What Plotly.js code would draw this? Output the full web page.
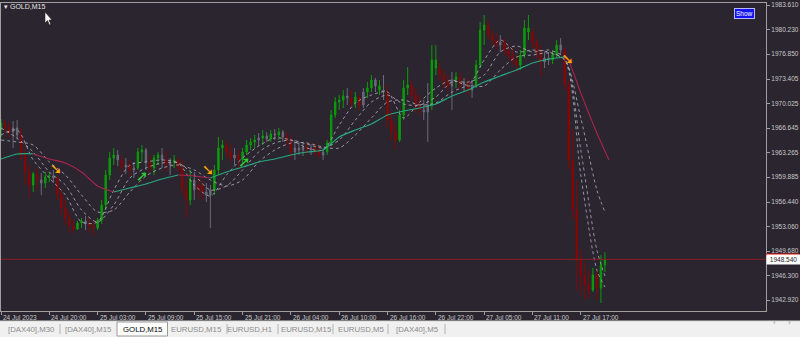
<!DOCTYPE html>
<html><head><meta charset="utf-8">
<script src="https://cdn.plot.ly/plotly-3.0.1.min.js"></script>
<style>html,body{margin:0;padding:0;background:#2a252f;}#c{width:800px;height:337px;}</style>
</head><body><div id="c"></div>
<script>
// ---- OHLC data (GOLD, bars) ----
const openP = [
1966.37,1967.20,1966.79,1966.10,1966.65,1965.68,1962.93,1960.58,1958.79,1960.31,
1959.48,1959.06,1959.89,1960.03,1959.75,1957.41,1955.62,1954.24,1953.13,1952.72,
1953.55,1953.82,1953.41,1953.13,1952.86,1953.96,1956.03,1960.17,1962.51,1962.93,
1962.24,1961.27,1961.55,1960.86,1961.13,1963.34,1963.61,1961.96,1961.13,1962.51,
1962.93,1962.24,1961.55,1961.96,1962.24,1961.13,1958.37,1956.72,1959.48,1958.10,
1958.79,1957.82,1957.41,1958.10,1960.86,1963.89,1964.30,1963.34,1962.51,1962.93,
1962.24,1963.34,1964.30,1964.72,1964.99,1965.27,1965.55,1965.13,1965.82,1965.68,
1966.10,1965.41,1964.99,1963.34,1963.89,1963.61,1964.03,1963.61,1963.89,1963.48,
1962.93,1963.34,1964.58,1968.44,1970.23,1970.51,1971.06,1970.79,1970.10,1970.92,
1969.82,1971.61,1972.16,1973.27,1972.44,1971.89,1971.61,1967.75,1966.10,1964.99,
1968.44,1972.16,1972.58,1971.20,1969.82,1969.13,1968.86,1969.82,1976.03,1974.92,
1973.96,1972.99,1972.44,1973.27,1973.68,1972.58,1972.99,1971.89,1972.58,1975.34,
1980.16,1980.85,1979.47,1978.78,1978.09,1978.51,1977.40,1976.72,1976.03,1975.34,
1976.72,1980.44,1979.89,1978.51,1977.13,1975.75,1976.30,1976.03,1976.72,1978.09,
1977.40,1972.58,1962.24,1955.34,1948.45,1946.38,1945.00,1944.31,1946.38,1944.58,1947.76];
const highP = [
1967.89,1967.75,1967.48,1967.61,1967.75,1966.65,1963.61,1961.55,1960.58,1961.13,
1960.44,1960.58,1960.58,1960.86,1960.03,1958.10,1956.72,1955.07,1953.96,1953.82,
1954.24,1954.51,1954.24,1953.96,1954.24,1956.72,1960.86,1963.34,1963.89,1963.61,
1962.93,1962.51,1962.24,1961.96,1963.89,1964.30,1963.89,1962.93,1962.93,1963.34,
1963.89,1963.61,1962.51,1962.93,1962.65,1962.24,1959.48,1960.86,1960.58,1959.75,
1959.48,1959.06,1958.79,1961.55,1965.41,1964.99,1964.99,1964.30,1963.89,1963.61,
1963.89,1964.99,1965.27,1965.68,1965.96,1966.37,1966.10,1966.37,1966.51,1966.65,
1966.37,1966.10,1965.68,1964.99,1964.72,1964.58,1964.72,1964.44,1964.58,1964.17,
1963.89,1964.99,1969.13,1970.92,1971.20,1971.89,1972.16,1971.89,1971.61,1971.20,
1972.16,1972.99,1973.96,1973.54,1973.27,1973.96,1972.58,1968.86,1967.06,1969.13,
1973.27,1975.06,1973.27,1972.16,1971.20,1970.51,1972.85,1978.09,1978.09,1975.75,
1974.65,1973.96,1974.37,1974.37,1974.37,1973.54,1973.54,1973.27,1976.03,1981.27,
1982.23,1981.54,1980.16,1979.75,1979.47,1979.06,1978.09,1977.68,1976.72,1977.40,
1981.54,1982.23,1980.44,1979.06,1978.09,1977.13,1977.13,1977.40,1978.78,1979.06,
1977.68,1973.27,1966.37,1959.48,1949.82,1948.17,1947.07,1947.34,1947.07,1949.14,1949.55];
const lowP = [
1965.41,1965.96,1965.27,1963.89,1964.99,1962.24,1958.79,1957.00,1957.82,1958.10,
1957.41,1958.37,1959.20,1959.06,1956.72,1954.65,1953.27,1952.31,1952.03,1952.58,
1952.86,1952.58,1952.31,1951.76,1952.58,1953.41,1955.34,1959.48,1961.55,1961.41,
1960.58,1960.31,1960.03,1959.75,1960.86,1961.96,1960.86,1960.58,1960.17,1961.55,
1961.13,1960.58,1960.17,1961.13,1960.58,1957.41,1954.24,1956.03,1956.72,1957.00,
1956.72,1956.44,1952.86,1957.41,1960.17,1962.24,1962.51,1961.96,1961.55,1961.13,
1961.82,1962.93,1963.61,1963.89,1964.17,1964.30,1964.72,1964.72,1964.99,1964.99,
1964.72,1964.30,1962.51,1962.24,1962.93,1962.79,1963.06,1962.93,1962.79,1962.51,
1962.24,1962.93,1964.17,1968.03,1969.13,1969.41,1969.82,1969.41,1969.41,1969.13,
1969.41,1970.79,1971.61,1971.61,1971.20,1970.51,1966.65,1964.99,1963.61,1964.72,
1967.75,1971.20,1970.51,1968.86,1968.44,1967.75,1964.72,1969.13,1973.96,1973.27,
1972.16,1971.61,1969.13,1972.16,1971.89,1971.61,1971.20,1970.79,1972.16,1974.92,
1978.09,1978.78,1978.09,1977.40,1977.13,1976.72,1976.03,1975.34,1974.23,1974.65,
1976.30,1978.78,1977.68,1976.30,1973.68,1974.92,1975.34,1975.47,1976.30,1976.72,
1971.89,1960.86,1953.96,1944.31,1943.62,1942.93,1943.21,1944.03,1942.93,1942.52,1946.79];
const closeP = [
1967.34,1966.79,1966.10,1966.65,1965.68,1962.93,1960.58,1958.79,1960.31,1959.48,
1959.06,1959.89,1960.03,1959.75,1957.41,1955.62,1954.24,1953.13,1952.72,1953.55,
1953.82,1953.41,1953.13,1952.86,1953.96,1956.03,1960.17,1962.51,1962.93,1962.24,
1961.27,1961.55,1960.86,1961.13,1963.34,1963.61,1961.96,1961.13,1962.51,1962.93,
1962.24,1961.55,1961.96,1962.24,1961.13,1958.37,1956.72,1959.48,1958.10,1958.79,
1957.82,1957.41,1958.10,1960.86,1963.89,1964.30,1963.34,1962.51,1962.93,1962.24,
1963.34,1964.30,1964.72,1964.99,1965.27,1965.55,1965.13,1965.82,1965.68,1966.10,
1965.41,1964.99,1963.34,1963.89,1963.61,1964.03,1963.61,1963.89,1963.48,1962.93,
1963.34,1964.58,1968.44,1970.23,1970.51,1971.06,1970.79,1970.10,1970.92,1969.82,
1971.61,1972.16,1973.27,1972.44,1971.89,1971.61,1967.75,1966.10,1964.99,1968.44,
1972.16,1972.58,1971.20,1969.82,1969.13,1968.86,1969.82,1976.03,1974.92,1973.96,
1972.99,1972.44,1973.27,1973.68,1972.58,1972.99,1971.89,1972.58,1975.34,1980.16,
1980.85,1979.47,1978.78,1978.09,1978.51,1977.40,1976.72,1976.03,1975.34,1976.72,
1980.44,1979.89,1978.51,1977.13,1975.75,1976.30,1976.03,1976.72,1978.09,1977.40,
1972.58,1962.24,1955.34,1948.45,1946.38,1945.00,1944.31,1946.38,1944.58,1947.76,1948.54];
// bar colour state from the indicator: u = bull (green), d = bear (red), n = neutral (grey)
const barState = [
'u','d','d','n','n','d','d','d','u','d',
'n','u','u','n','d','d','d','d','d','u',
'u','n','d','d','u','u','u','u','u','n',
'd','n','d','n','u','u','n','d','u','u',
'n','d','n','u','d','d','d','u','n','d',
'd','n','n','u','u','u','d','d','n','d',
'u','u','u','u','n','u','n','u','n','u',
'n','d','d','n','n','n','d','n','d','d',
'n','u','u','u','u','u','n','d','u','d',
'n','u','u','n','u','n','d','d','d','u',
'u','u','d','d','d','n','n','u','u','d',
'd','d','n','u','d','n','d','n','u','u',
'u','d','d','d','n','d','d','d','d','u',
'u','u','d','d','d','n','n','u','u','n',
'd','d','d','d','d','d','d','u','d','u','u'];

// ---- trend moving average (solid, coloured by slope) ----
const trendX = [0,4,8,12,16,20,24,28,32,36,40,44,48,52,56,60,64,68,72,76,80,84,88,92,96,100,104,108,112,116,120,124,128,132,136,140,141,144,148,151];
const trendY = [1962.37,1963.06,1963.10,1962.37,1961.82,1960.58,1958.65,1957.82,1958.37,1958.93,1959.62,1960.17,1960.03,1959.75,1960.58,1961.27,1961.96,1962.37,1962.93,1963.34,1963.61,1965.41,1966.37,1967.20,1968.44,1968.99,1969.41,1969.96,1971.06,1971.89,1972.99,1973.82,1974.65,1975.61,1976.16,1976.44,1975.89,1971.48,1965.96,1962.24];

// ---- dotted moving averages ----
const maX = [0,4,8,12,16,20,24,28,32,36,40,44,48,52,56,60,64,68,72,76,80,84,88,92,96,100,104,108,112,116,120,124,128,132,136,140,144,148,150];
const maFast = [1965.68,1966.37,1962.24,1959.75,1957.41,1953.69,1953.69,1958.10,1961.55,1961.96,1962.24,1961.82,1958.79,1957.27,1960.17,1962.51,1964.17,1965.27,1964.99,1963.89,1963.61,1967.06,1970.10,1971.20,1971.61,1968.03,1970.23,1972.16,1973.27,1972.58,1976.03,1978.78,1977.13,1977.40,1977.13,1976.03,1960.17,1947.07,1944.72];
const maMid = [1966.65,1965.27,1963.34,1960.58,1958.79,1955.34,1953.69,1956.03,1959.75,1961.13,1961.82,1961.82,1960.17,1958.10,1958.65,1960.86,1963.34,1964.58,1964.99,1964.44,1963.89,1964.99,1967.75,1970.23,1971.20,1969.96,1969.82,1970.92,1972.99,1972.99,1973.96,1977.13,1977.96,1977.13,1977.40,1976.30,1963.61,1949.82,1946.24];
const maSlow = [1964.99,1964.72,1964.30,1961.96,1960.17,1957.41,1955.07,1955.34,1957.82,1960.03,1961.13,1961.55,1960.86,1959.48,1958.65,1959.48,1961.96,1963.61,1964.58,1964.58,1964.03,1963.89,1965.68,1968.03,1970.23,1970.51,1969.82,1970.10,1971.61,1972.44,1972.44,1974.65,1976.44,1976.72,1976.99,1976.03,1968.03,1958.10,1955.07];

// ---- signal arrows ----
const sellX = [13.7, 51.4, 140.8];
const sellY = [1960.86, 1960.72, 1976.03];
const buyX = [35, 60.4];
const buyY = [1959.89, 1961.82];

// ---- axis labels ----
const priceTicks = [1983.610,1980.230,1976.850,1973.405,1970.025,1966.645,1963.265,1959.885,1956.440,1953.060,1949.680,1946.300,1942.920];
const timeTickIdx = [0,12,24,36,48,60,72,84,96,108,120,132,144];
const timeTickText = ['24 Jul 2023','24 Jul 20:00','25 Jul 03:00','25 Jul 09:00','25 Jul 15:00','25 Jul 21:00','26 Jul 04:00','26 Jul 10:00','26 Jul 16:00','26 Jul 22:00','27 Jul 05:00','27 Jul 11:00','27 Jul 17:00'];
const lastPrice = 1948.54;
const tabNames = ['[DAX40],M30','[DAX40],M15','GOLD,M15','EURUSD,M15','EURUSD,H1','EURUSD,M15','EURUSD,M5','[DAX40],M5'];
const activeTab = 2;

// ---------------- build ----------------
const BG = '#2a252f';
const FONT = 'Liberation Sans, Arial, sans-serif';
const W = 800, H = 337, ML = 1, MR = 34, MT = 3, MB = 26;
const PW = W - ML - MR, PH = H - MT - MB;
const px = p => (p - ML) / PW;
const py = p => (H - MB - p) / PH;

const stateColor = {u: '#0a9c0a', d: '#840707', n: '#6a6a7c'};
const traces = [];
['n','d','u'].forEach(s => {
  const idx = barState.map((v,i)=>v===s?i:-1).filter(i=>i>=0);
  traces.push({
    type: 'candlestick',
    x: idx, open: idx.map(i=>openP[i]), high: idx.map(i=>highP[i]),
    low: idx.map(i=>lowP[i]), close: idx.map(i=>closeP[i]),
    increasing: {line: {color: stateColor[s], width: 1}, fillcolor: stateColor[s]},
    decreasing: {line: {color: stateColor[s], width: 1}, fillcolor: stateColor[s]},
    whiskerwidth: 0, hoverinfo: 'skip', showlegend: false
  });
});

[maSlow, maMid, maFast].forEach(arr => {
  traces.push({type:'scatter', mode:'lines', x: maX, y: arr,
    line:{color:'rgba(170,170,182,0.85)', width:1, dash:'dot', shape:'spline', smoothing:0.8},
    hoverinfo:'skip', showlegend:false});
});

const upY = trendY.map(()=>null), dnY = trendY.map(()=>null);
for (let k=0;k<trendY.length-1;k++){
  const arr = trendY[k+1] >= trendY[k] ? upY : dnY;
  arr[k] = trendY[k]; arr[k+1] = trendY[k+1];
}
traces.push({type:'scatter', mode:'lines', x: trendX, y: dnY, connectgaps:false,
  line:{color:'#a8244c', width:1.1, shape:'spline', smoothing:0.6}, hoverinfo:'skip', showlegend:false});
traces.push({type:'scatter', mode:'lines', x: trendX, y: upY, connectgaps:false,
  line:{color:'#26a97d', width:1.2, shape:'spline', smoothing:0.6}, hoverinfo:'skip', showlegend:false});

traces.push({type:'scatter', mode:'text', x: sellX, y: sellY, text: sellX.map(()=>'<b>➘</b>'),
  textposition:'middle center', textfont:{family:'DejaVu Sans', size:15, color:'#ffa500'}, hoverinfo:'skip', showlegend:false});
traces.push({type:'scatter', mode:'text', x: buyX, y: buyY, text: buyX.map(()=>'<b>➚</b>'),
  textposition:'middle center', textfont:{family:'DejaVu Sans', size:15, color:'#32cd32'}, hoverinfo:'skip', showlegend:false});

const shapes = [];
const annotations = [];

// current price line and label
shapes.push({type:'line', xref:'paper', yref:'y', x0:0, x1:1, y0:lastPrice, y1:lastPrice, line:{color:'#8e1c26', width:1}});
shapes.push({type:'rect', xref:'paper', yref:'paper', x0:px(766), x1:px(799), y0:py(255.5), y1:py(253.5), fillcolor:'#e01010', line:{width:0}});
annotations.push({xref:'paper', yref:'y', x:px(766), y:lastPrice, xanchor:'left', yanchor:'middle', showarrow:false,
  text: '&nbsp;' + lastPrice.toFixed(3) + '&nbsp;', font:{family:FONT, size:6.5, color:'#202020'}, bgcolor:'#ffffff', borderpad:1});

// time labels
timeTickIdx.forEach((t,k)=>{
  annotations.push({xref:'x', yref:'paper', x:t, y:py(312), xanchor:'left', yanchor:'top', xshift:0, showarrow:false,
    text: timeTickText[k], font:{family:FONT, size:6.5, color:'#c8c8c8'}});
});

// top-left symbol caption
annotations.push({xref:'paper', yref:'paper', x:px(2), y:py(6.5), xanchor:'left', yanchor:'middle', showarrow:false,
  text:'▾ GOLD,M15', font:{family:FONT, size:7, color:'#e6e6e6'}});
// Show button
annotations.push({xref:'paper', yref:'paper', x:px(744), y:py(14), xanchor:'center', yanchor:'middle', showarrow:false,
  text:'Show', font:{family:FONT, size:6.5, color:'#ffffff'}, bgcolor:'#1414f0', bordercolor:'#b8b8ff', borderwidth:1, borderpad:1});

// mouse cursor
const cur = [[45,12],[45,23],[47.5,20.6],[49.4,25],[50.8,24.3],[49,20],[52,20]];
shapes.push({type:'path', xref:'paper', yref:'paper',
  path: 'M ' + cur.map(p=>px(p[0])+','+py(p[1])).join(' L ') + ' Z',
  fillcolor:'#ffffff', line:{color:'#202020', width:0.6}});

// tab bar
shapes.push({type:'rect', xref:'paper', yref:'paper', x0:px(0), x1:px(800), y0:py(337), y1:py(321), fillcolor:'#f0f0f0', line:{width:0}});
shapes.push({type:'line', xref:'paper', yref:'paper', x0:px(0), x1:px(800), y0:py(321), y1:py(321), line:{color:'#d8d8d8', width:1}});
const tabCenters = [31, 88, 143, 197, 249, 306, 361, 418];
const tabSeps = [60, 227, 278, 333, 388, 445];
tabSeps.forEach(s=>shapes.push({type:'line', xref:'paper', yref:'paper', x0:px(s), x1:px(s), y0:py(334), y1:py(324), line:{color:'#b4b4b4', width:1}}));
shapes.push({type:'rect', xref:'paper', yref:'paper', x0:px(117), x1:px(167.5), y0:py(336), y1:py(322), fillcolor:'#ffffff', line:{color:'#9a9a9a', width:1}});
tabNames.forEach((n,k)=>{
  annotations.push({xref:'paper', yref:'paper', x:px(tabCenters[k]), y:py(329.5), xanchor:'center', yanchor:'middle', showarrow:false,
    text:n, font:{family:FONT, size:7.8, color: k===activeTab ? '#000000' : '#8c8c8c'}});
});
annotations.push({xref:'paper', yref:'paper', x:px(778), y:py(329), showarrow:false, text:'‹', font:{family:FONT, size:8, color:'#9a9a9a'}});
annotations.push({xref:'paper', yref:'paper', x:px(793), y:py(329), showarrow:false, text:'›', font:{family:FONT, size:8, color:'#9a9a9a'}});

const layout = {
  width: W, height: H,
  margin: {l:ML, r:MR, t:MT, b:MB, pad:0},
  paper_bgcolor: BG, plot_bgcolor: BG,
  showlegend: false, boxgap: 0.5,
  xaxis: {type:'linear', range:[0, 190], showgrid:false, zeroline:false,
    showline:true, linecolor:'#a0a0a0', linewidth:1, mirror:true,
    ticks:'outside', ticklen:3, tickcolor:'#a0a0a0', tickvals: timeTickIdx, showticklabels:false,
    rangeslider:{visible:false}, fixedrange:true},
  yaxis: {side:'right', range:[1941.41, 1983.89], showgrid:false, zeroline:false,
    showline:true, linecolor:'#a0a0a0', linewidth:1, mirror:true,
    ticks:'outside', ticklen:3, tickcolor:'#a0a0a0',
    tickvals: priceTicks, ticktext: priceTicks.map(v=>v.toFixed(3)),
    tickfont:{family:FONT, size:6.5, color:'#c8c8c8'}, fixedrange:true},
  shapes, annotations
};
Plotly.newPlot('c', traces, layout, {staticPlot:true, displayModeBar:false});
</script></body></html>
